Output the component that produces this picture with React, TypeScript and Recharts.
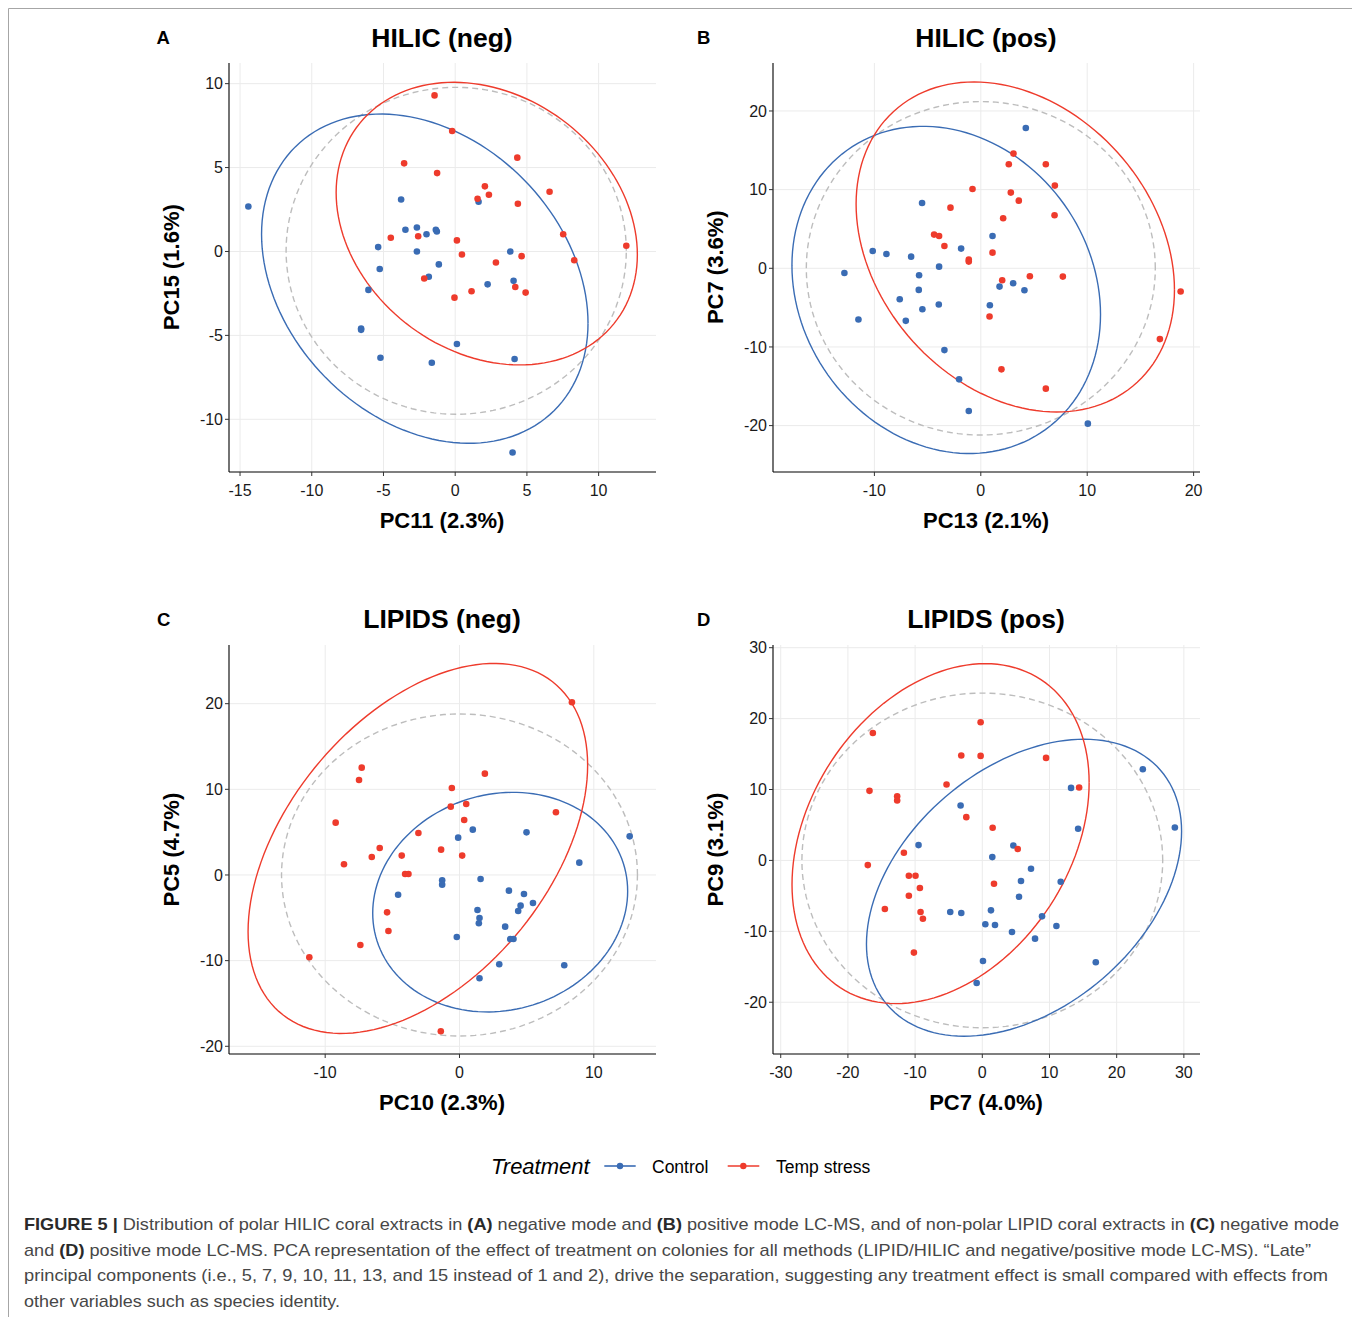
import React from "react";
import { CartesianGrid, Scatter, ScatterChart, XAxis, YAxis } from "recharts";

type Pt = [number, number];

const BLUE = "#3a6cb4";
const RED = "#ee3b2c";
const GREY = "#bdbdbd";

// (A) HILIC neg — PC11 vs PC15
const hilicNegControl: Pt[] = [
  [-14.42, 2.68], [-3.77, 3.1], [-3.47, 1.29], [-2.67, 1.43], [-2.0, 1.03], [-1.35, 1.29],
  [-1.28, 1.19], [1.63, 2.96], [-5.37, 0.26], [-2.67, 0.0], [3.84, 0.0], [-1.14, -0.77],
  [-5.26, -1.04], [-1.84, -1.51], [-6.05, -2.29], [2.26, -1.96], [4.07, -1.75], [-6.56, -4.59],
  [-6.56, -4.67], [0.12, -5.51], [-5.21, -6.33], [-1.63, -6.63], [4.14, -6.41], [4.0, -11.98],
];
const hilicNegStress: Pt[] = [
  [-1.44, 9.3], [-0.21, 7.18], [-3.56, 5.25], [-1.26, 4.67], [4.33, 5.59], [2.07, 3.88],
  [1.56, 3.14], [2.35, 3.38], [6.58, 3.56], [4.37, 2.84], [7.53, 1.03], [-4.49, 0.82],
  [-2.58, 0.91], [0.12, 0.66], [0.47, -0.18], [2.84, -0.66], [4.63, -0.28], [8.3, -0.52],
  [11.93, 0.34], [-2.16, -1.61], [-0.05, -2.75], [1.14, -2.37], [4.19, -2.12], [4.91, -2.45],
];
// ellipse: [cx, cy, rx, ry, correlation]
const hilicNegEllControl = [-2.12, -1.62, 11.38, 9.81, -0.27];
const hilicNegEllStress = [2.2, 1.66, 10.5, 8.42, -0.22];
const hilicNegEllAll = [0.07, 0.04, 11.86, 9.74, 0];
const hilicNegXDomain = [-15.77, 14.0];
const hilicNegYDomain = [-13.14, 11.23];
const hilicNegXTicks = [-15, -10, -5, 0, 5, 10];
const hilicNegYTicks = [-10, -5, 0, 5, 10];

// (B) HILIC pos — PC13 vs PC7
const hilicPosControl: Pt[] = [
  [4.23, 17.84], [-5.52, 8.31], [1.1, 4.11], [-10.16, 2.2], [-8.87, 1.82], [-6.55, 1.48],
  [-1.85, 2.5], [-3.92, 0.21], [-12.82, -0.59], [-5.8, -0.89], [-5.83, -2.75], [-7.62, -3.93],
  [-3.95, -4.61], [-5.49, -5.2], [-11.5, -6.51], [-7.05, -6.68], [0.85, -4.69], [1.76, -2.33],
  [3.04, -1.9], [4.1, -2.79], [-3.42, -10.4], [-2.04, -14.12], [-1.13, -18.14], [10.06, -19.75],
];
const hilicPosStress: Pt[] = [
  [3.07, 14.58], [2.63, 13.22], [6.11, 13.22], [6.96, 10.51], [-0.78, 10.08], [2.82, 9.62],
  [3.57, 8.6], [-2.85, 7.71], [2.1, 6.36], [6.93, 6.74], [-4.39, 4.28], [-3.92, 4.11],
  [-3.42, 2.84], [1.1, 1.99], [-1.13, 1.1], [-1.13, 0.85], [2.01, -1.52], [4.61, -1.01],
  [7.71, -1.06], [18.78, -2.96], [0.82, -6.13], [16.83, -9.0], [1.94, -12.85], [6.11, -15.3],
];
const hilicPosEllControl = [-3.25, -2.75, 14.5, 20.8, -0.15];
const hilicPosEllStress = [3.24, 2.71, 14.96, 20.98, -0.26];
const hilicPosEllAll = [0, 0, 16.4, 21.2, 0];
const hilicPosXDomain = [-19.53, 20.6];
const hilicPosYDomain = [-25.9, 26.1];
const hilicPosXTicks = [-10, 0, 10, 20];
const hilicPosYTicks = [-20, -10, 0, 10, 20];

// (C) LIPIDS neg — PC10 vs PC5
const lipidsNegControl: Pt[] = [
  [-0.1, 4.36], [0.99, 5.29], [4.99, 4.98], [12.67, 4.51], [8.92, 1.44], [1.57, -0.47],
  [-1.29, -0.62], [-1.29, -1.13], [-4.57, -2.3], [3.68, -1.83], [4.8, -2.22], [5.47, -3.27],
  [4.55, -3.58], [4.37, -4.2], [1.34, -4.09], [1.49, -5.02], [1.44, -5.64], [3.4, -6.03],
  [3.78, -7.47], [4.02, -7.47], [-0.2, -7.24], [2.96, -10.43], [7.8, -10.54], [1.49, -12.06],
];
const lipidsNegStress: Pt[] = [
  [8.37, 20.16], [-7.28, 12.53], [-7.48, 11.09], [1.89, 11.83], [-0.57, 10.16], [-0.65, 7.98],
  [0.5, 8.29], [0.35, 6.42], [7.18, 7.32], [-9.22, 6.11], [-3.06, 4.9], [-5.94, 3.15],
  [-1.37, 2.96], [-6.53, 2.1], [-4.3, 2.26], [0.2, 2.26], [-8.6, 1.25], [-4.05, 0.12],
  [-3.8, 0.12], [-5.39, -4.36], [-5.29, -6.54], [-7.38, -8.17], [-11.18, -9.61], [-1.39, -18.25],
];
const lipidsNegEllControl = [3.03, -3.17, 9.49, 12.82, 0.1];
const lipidsNegEllStress = [-3.1, 3.1, 12.64, 21.6, 0.45];
const lipidsNegEllAll = [0, 0, 13.25, 18.8, 0];
const lipidsNegXDomain = [-17.16, 14.63];
const lipidsNegYDomain = [-20.9, 26.85];
const lipidsNegXTicks = [-10, 0, 10];
const lipidsNegYTicks = [-20, -10, 0, 10, 20];

// (D) LIPIDS pos — PC7 vs PC9
const lipidsPosControl: Pt[] = [
  [13.21, 10.23], [23.89, 12.86], [-3.23, 7.75], [14.26, 4.46], [28.66, 4.65], [-9.49, 2.16],
  [4.62, 2.11], [1.49, 0.47], [7.25, -1.17], [5.76, -2.91], [11.67, -3.0], [5.46, -5.12],
  [-4.77, -7.28], [-3.13, -7.42], [1.29, -7.04], [0.45, -9.01], [1.89, -9.11], [8.89, -7.89],
  [4.42, -10.09], [11.03, -9.25], [7.85, -11.03], [0.1, -14.18], [16.89, -14.37], [-0.84, -17.28],
];
const lipidsPosStress: Pt[] = [
  [-16.29, 17.98], [-0.25, 19.48], [-3.13, 14.79], [-0.25, 14.74], [9.49, 14.46], [-5.32, 10.7],
  [-16.79, 9.81], [-12.67, 9.06], [-12.67, 8.45], [14.41, 10.28], [-2.38, 6.1], [1.54, 4.6],
  [5.27, 1.6], [-11.67, 1.08], [-17.04, -0.66], [-10.93, -2.16], [-9.94, -2.16], [-9.29, -3.9],
  [-10.93, -4.98], [-14.5, -6.85], [-9.19, -7.28], [-8.84, -8.22], [1.74, -3.29], [-10.18, -13.0],
];
const lipidsPosEllControl = [6.21, -3.85, 23.45, 20.94, 0.38];
const lipidsPosEllStress = [-6.21, 3.78, 22.11, 23.97, 0.3];
const lipidsPosEllAll = [0, 0, 26.85, 23.6, 0];
const lipidsPosXDomain = [-31.15, 32.4];
const lipidsPosYDomain = [-27.3, 30.38];
const lipidsPosXTicks = [-30, -20, -10, 0, 10, 20, 30];
const lipidsPosYTicks = [-20, -10, 0, 10, 20, 30];

const PLOT_W = 427;
const PLOT_H = 409;
const Y_AXIS_W = 60;
const X_AXIS_H = 40;
const FONT = "'Liberation Sans', Arial, Helvetica, sans-serif";

const toRows = (pts: Pt[]) => pts.map(([x, y]) => ({ x, y }));

// covariance-style ellipse outline, traced in data units
function ellipsePoints([cx, cy, rx, ry, r]: number[]) {
  const phi = Math.acos(r);
  const out = [];
  for (let i = 0; i <= 144; i++) {
    const t = (i / 144) * Math.PI * 2;
    out.push({ x: cx + rx * Math.cos(t), y: cy + ry * Math.cos(t - phi) });
  }
  return out;
}

const dot = (color: string) => (p: any) => <circle cx={p.cx} cy={p.cy} r={3.3} fill={color} />;
const noShape = () => <g />;

const tickStyle = { fill: "#1a1a1a", fontSize: 16, fontFamily: FONT };

function Panel(props: {
  plotX: number;
  plotY: number;
  control: Pt[];
  stress: Pt[];
  ellControl: number[];
  ellStress: number[];
  ellAll: number[];
  xDomain: number[];
  yDomain: number[];
  xTicks: number[];
  yTicks: number[];
}) {
  const { plotX, plotY } = props;
  return (
    <div style={{ position: "absolute", left: plotX - Y_AXIS_W - 8, top: plotY - 10 - 8 }}>
      <ScatterChart
        width={PLOT_W + Y_AXIS_W + 10}
        height={PLOT_H + X_AXIS_H + 10}
        margin={{ top: 10, right: 10, left: 0, bottom: 0 }}
      >
        <CartesianGrid
          stroke="#ebebeb"
          strokeWidth={1}
          horizontalValues={props.yTicks}
          verticalValues={props.xTicks}
        />
        <XAxis
          type="number"
          dataKey="x"
          domain={props.xDomain}
          ticks={props.xTicks}
          allowDataOverflow
          interval={0}
          height={X_AXIS_H}
          tickSize={4}
          tickMargin={9}
          axisLine={{ stroke: "#000", strokeWidth: 1.1 }}
          tickLine={{ stroke: "#333" }}
          tick={tickStyle}
        />
        <YAxis
          type="number"
          dataKey="y"
          domain={props.yDomain}
          ticks={props.yTicks}
          allowDataOverflow
          interval={0}
          width={Y_AXIS_W}
          tickSize={4}
          tickMargin={2}
          axisLine={{ stroke: "#000", strokeWidth: 1.1 }}
          tickLine={{ stroke: "#333" }}
          tick={tickStyle}
        />
        <Scatter
          data={ellipsePoints(props.ellAll)}
          fill={GREY}
          line={{ stroke: GREY, strokeWidth: 1.4, strokeDasharray: "6 4" }}
          shape={noShape}
          isAnimationActive={false}
        />
        <Scatter
          data={ellipsePoints(props.ellControl)}
          fill={BLUE}
          line={{ stroke: BLUE, strokeWidth: 1.4 }}
          shape={noShape}
          isAnimationActive={false}
        />
        <Scatter
          data={ellipsePoints(props.ellStress)}
          fill={RED}
          line={{ stroke: RED, strokeWidth: 1.4 }}
          shape={noShape}
          isAnimationActive={false}
        />
        <Scatter data={toRows(props.control)} fill={BLUE} shape={dot(BLUE)} isAnimationActive={false} />
        <Scatter data={toRows(props.stress)} fill={RED} shape={dot(RED)} isAnimationActive={false} />
      </ScatterChart>
    </div>
  );
}

const captionLines = [
  {
    y: 1230,
    len: 1315,
    parts: [
      ["FIGURE 5 |", true],
      [" Distribution of polar HILIC coral extracts in ", false],
      ["(A)", true],
      [" negative mode and ", false],
      ["(B)", true],
      [" positive mode LC-MS, and of non-polar LIPID coral extracts in ", false],
      ["(C)", true],
      [" negative mode", false],
    ],
  },
  {
    y: 1255.5,
    len: 1287,
    parts: [
      ["and ", false],
      ["(D)", true],
      [
        " positive mode LC-MS. PCA representation of the effect of treatment on colonies for all methods (LIPID/HILIC and negative/positive mode LC-MS). \u201cLate\u201d",
        false,
      ],
    ],
  },
  {
    y: 1281,
    len: 1304,
    parts: [
      [
        "principal components (i.e., 5, 7, 9, 10, 11, 13, and 15 instead of 1 and 2), drive the separation, suggesting any treatment effect is small compared with effects from",
        false,
      ],
    ],
  },
  { y: 1306.5, len: 316, parts: [["other variables such as species identity.", false]] },
] as { y: number; len: number; parts: [string, boolean][] }[];

function Overlay() {
  const title = { fontFamily: FONT, fontWeight: 700, fill: "#000" } as const;
  return (
    <svg
      width={1350}
      height={1309}
      style={{ position: "absolute", left: 0, top: 0, pointerEvents: "none" }}
    >
      <g transform="translate(-8,-8)">
        <path d="M8.5 1330 V8.5 H1356.5 V1330" fill="none" stroke="#a6a6a6" strokeWidth={1} />

        <text x={156.5} y={44} fontSize={18.5} {...title}>A</text>
        <text x={697} y={44} fontSize={18.5} {...title}>B</text>
        <text x={157} y={625.7} fontSize={18.5} {...title}>C</text>
        <text x={697} y={625.7} fontSize={18.5} {...title}>D</text>

        <text x={442} y={46.7} fontSize={26.5} textAnchor="middle" {...title}>HILIC (neg)</text>
        <text x={986} y={46.7} fontSize={26.5} textAnchor="middle" {...title}>HILIC (pos)</text>
        <text x={442} y={627.7} fontSize={26.5} textAnchor="middle" {...title}>LIPIDS (neg)</text>
        <text x={986} y={627.7} fontSize={26.5} textAnchor="middle" {...title}>LIPIDS (pos)</text>

        <text x={442} y={528.3} fontSize={22} textAnchor="middle" {...title}>PC11 (2.3%)</text>
        <text x={986} y={528.3} fontSize={22} textAnchor="middle" {...title}>PC13 (2.1%)</text>
        <text x={442} y={1110} fontSize={22} textAnchor="middle" {...title}>PC10 (2.3%)</text>
        <text x={986} y={1110} fontSize={22} textAnchor="middle" {...title}>PC7 (4.0%)</text>

        <text transform="translate(179,267.2) rotate(-90)" fontSize={22} textAnchor="middle" {...title}>PC15 (1.6%)</text>
        <text transform="translate(722.5,267.2) rotate(-90)" fontSize={22} textAnchor="middle" {...title}>PC7 (3.6%)</text>
        <text transform="translate(179,849.6) rotate(-90)" fontSize={22} textAnchor="middle" {...title}>PC5 (4.7%)</text>
        <text transform="translate(722.5,849.6) rotate(-90)" fontSize={22} textAnchor="middle" {...title}>PC9 (3.1%)</text>

        <text x={491} y={1174.3} fontSize={22} fontStyle="italic" fontFamily={FONT} fill="#000">Treatment</text>
        <line x1={604.3} x2={635.7} y1={1166} y2={1166} stroke={BLUE} strokeWidth={1.6} />
        <circle cx={620} cy={1166} r={3.2} fill={BLUE} />
        <text x={652} y={1172.7} fontSize={17.5} fontFamily={FONT} fill="#000">Control</text>
        <line x1={727.7} x2={759.3} y1={1166} y2={1166} stroke={RED} strokeWidth={1.6} />
        <circle cx={743.3} cy={1166} r={3.2} fill={RED} />
        <text x={776} y={1172.7} fontSize={17.5} fontFamily={FONT} fill="#000">Temp stress</text>

        {captionLines.map((ln, i) => (
          <text
            key={i}
            x={24}
            y={ln.y}
            fontSize={17}
            fontFamily="'Liberation Sans Narrow', 'Liberation Sans', Arial, sans-serif"
            fill="#474747"
            textLength={ln.len}
            lengthAdjust="spacingAndGlyphs"
          >
            {ln.parts.map(([s, b], j) => (
              <tspan key={j} fontWeight={b ? 700 : 400} fill={b ? "#2a2a2a" : "#474747"}>
                {s}
              </tspan>
            ))}
          </text>
        ))}
      </g>
    </svg>
  );
}

export default function App() {
  return (
    <div style={{ position: "relative", width: 1350, height: 1309, background: "#fff" }}>
      <Panel
        plotX={229}
        plotY={62.7}
        control={hilicNegControl}
        stress={hilicNegStress}
        ellControl={hilicNegEllControl}
        ellStress={hilicNegEllStress}
        ellAll={hilicNegEllAll}
        xDomain={hilicNegXDomain}
        yDomain={hilicNegYDomain}
        xTicks={hilicNegXTicks}
        yTicks={hilicNegYTicks}
      />
      <Panel
        plotX={772.7}
        plotY={62.7}
        control={hilicPosControl}
        stress={hilicPosStress}
        ellControl={hilicPosEllControl}
        ellStress={hilicPosEllStress}
        ellAll={hilicPosEllAll}
        xDomain={hilicPosXDomain}
        yDomain={hilicPosYDomain}
        xTicks={hilicPosXTicks}
        yTicks={hilicPosYTicks}
      />
      <Panel
        plotX={229}
        plotY={645}
        control={lipidsNegControl}
        stress={lipidsNegStress}
        ellControl={lipidsNegEllControl}
        ellStress={lipidsNegEllStress}
        ellAll={lipidsNegEllAll}
        xDomain={lipidsNegXDomain}
        yDomain={lipidsNegYDomain}
        xTicks={lipidsNegXTicks}
        yTicks={lipidsNegYTicks}
      />
      <Panel
        plotX={772.7}
        plotY={645}
        control={lipidsPosControl}
        stress={lipidsPosStress}
        ellControl={lipidsPosEllControl}
        ellStress={lipidsPosEllStress}
        ellAll={lipidsPosEllAll}
        xDomain={lipidsPosXDomain}
        yDomain={lipidsPosYDomain}
        xTicks={lipidsPosXTicks}
        yTicks={lipidsPosYTicks}
      />
      <Overlay />
    </div>
  );
}
